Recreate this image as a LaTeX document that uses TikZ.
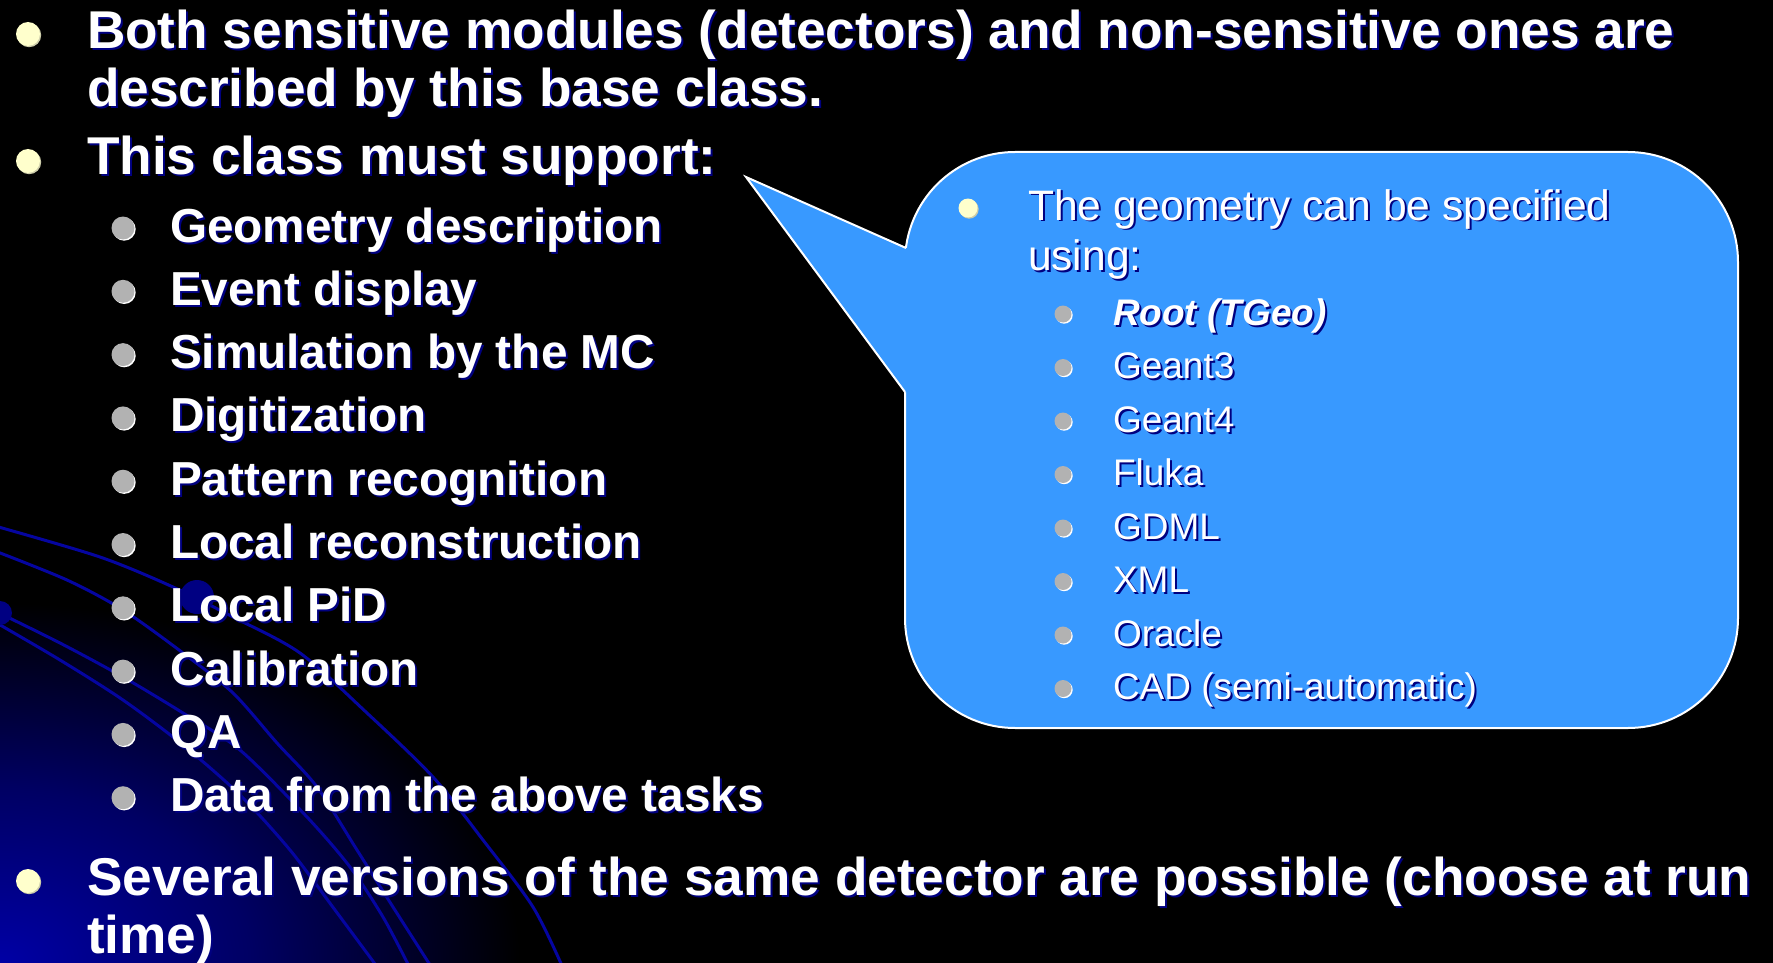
\documentclass[tikz,border=0pt]{standalone}
\usepackage{fontspec}
\setmainfont{Liberation Sans}
\definecolor{calloutblue}{RGB}{56,153,255}
\definecolor{shadownavy}{RGB}{0,0,128}
\definecolor{arcnavy}{RGB}{5,5,160}
\definecolor{glowblue}{RGB}{0,0,165}
\definecolor{glowmid}{RGB}{0,0,100}
\definecolor{blobnavy}{RGB}{0,0,130}
\definecolor{bulletyellow}{RGB}{255,255,204}
\definecolor{bulletrimy}{RGB}{205,205,170}
\definecolor{bulletgray}{RGB}{178,178,178}
\pgfdeclareradialshading{glowshade}{\pgfpoint{0bp}{0bp}}{color(0bp)=(glowblue); color(12bp)=(glowmid); color(25bp)=(black); color(50bp)=(black)}
\newcommand{\sltext}[5]{%
  \node[txt,#4,text=shadownavy] at (#2+2,#3+2) {#5};
  \node[txt,#4] (#1) at (#2,#3) {#5};}
\newcommand{\ybul}[3]{%
  \fill[bulletrimy] (#1+1.2,#2+1.2) circle (#3);
  \fill[bulletyellow] (#1,#2) circle (#3);}
\newcommand{\gbul}[3]{%
  \fill[white] (#1+1.2,#2+1.2) circle (#3);
  \fill[bulletgray] (#1,#2) circle (#3);}
\tikzset{
  txt/.style={anchor=base west, inner sep=0pt, outer sep=0pt, text=white},
  lone/.style={font=\fontsize{53.2}{58}\selectfont\bfseries},
  ltwo/.style={font=\fontsize{47.7}{52}\selectfont\bfseries},
  cone/.style={font=\fontsize{42.6}{50}\selectfont},
  ctwo/.style={font=\fontsize{37}{44}\selectfont},
  ctwobi/.style={font=\fontsize{37}{44}\selectfont\bfseries\itshape},
  arcline/.style={draw=arcnavy, line width=3pt},
}
\begin{document}
\begin{tikzpicture}[x=1pt,y=-1pt]
\useasboundingbox (0,0) rectangle (1773,963);
% background
\fill[black] (0,0) rectangle (1773,963);
\begin{scope}
  \clip (0,0) rectangle (1773,963);
  \shade[shading=glowshade] (0,963) ellipse (520 and 360);
  \draw[arcline] plot[smooth] coordinates {(-5,526) (100,557) (173,587) (233,617) (300,653) (367,713) (433,777) (483,840) (533,907) (563,968)};
  \draw[arcline] plot[smooth] coordinates {(-5,551) (67,580) (123,610) (183,653) (233,693) (277,743) (317,787) (357,850) (393,907) (432,968)};
  \draw[arcline] plot[smooth] coordinates {(-5,611) (60,643) (123,677) (183,713) (240,750) (307,817) (350,867) (383,917) (410,968)};
  \draw[arcline] plot[smooth] coordinates {(-5,622) (60,660) (123,700) (183,745) (240,795) (290,850) (335,910) (378,968)};
  \fill[blobnavy] (197,597) circle (17);
  \fill[blobnavy] (0,613) circle (12);
\end{scope}
% callout
\filldraw[fill=calloutblue, draw=white, line width=2pt, rounded corners=110pt] (905,152) rectangle (1738,728);
\fill[calloutblue] (746,177) -- (906,248) -- (945,248) -- (945,392) -- (905,392) -- cycle;
\draw[white, line width=2pt] (906,248) -- (746,177) -- (905,392);
% left bullets
\ybul{28}{34}{12}
\ybul{28}{161}{12}
\ybul{28}{881}{12}
\sltext{t1}{87}{49}{lone}{Both sensitive modules (detectors) and non-sensitive ones are}
\sltext{t2}{87}{107}{lone}{described by this base class.}
\sltext{t3}{87}{175}{lone}{This class must support:}
\gbul{123}{228}{11.5}
\gbul{123}{291.3}{11.5}
\gbul{123}{354.6}{11.5}
\gbul{123}{417.9}{11.5}
\gbul{123}{481.2}{11.5}
\gbul{123}{544.5}{11.5}
\gbul{123}{607.8}{11.5}
\gbul{123}{671.1}{11.5}
\gbul{123}{734.4}{11.5}
\gbul{123}{797.7}{11.5}
\sltext{s1}{170}{242}{ltwo}{Geometry description}
\sltext{s2}{170}{305.3}{ltwo}{Event display}
\sltext{s3}{170}{368.6}{ltwo}{Simulation by the MC}
\sltext{s4}{170}{431.9}{ltwo}{Digitization}
\sltext{s5}{170}{495.2}{ltwo}{Pattern recognition}
\sltext{s6}{170}{558.5}{ltwo}{Local reconstruction}
\sltext{s7}{170}{621.8}{ltwo}{Local PiD}
\sltext{s8}{170}{685.1}{ltwo}{Calibration}
\sltext{s9}{170}{748.4}{ltwo}{QA}
\sltext{s10}{170}{811.7}{ltwo}{Data from the above tasks}
\sltext{t4}{87}{895}{lone}{Several versions of the same detector are possible (choose at run}
\sltext{t5}{87}{953}{lone}{time)}
% callout text
\ybul{968}{208}{9.5}
\sltext{c1}{1028}{220}{cone}{The geometry can be specified}
\sltext{c2}{1028}{270}{cone}{using:}
\gbul{1063}{314}{8.5}
\gbul{1063}{367.5}{8.5}
\gbul{1063}{421}{8.5}
\gbul{1063}{474.5}{8.5}
\gbul{1063}{528}{8.5}
\gbul{1063}{581.5}{8.5}
\gbul{1063}{635}{8.5}
\gbul{1063}{688.5}{8.5}
\sltext{g1}{1113}{325}{ctwobi}{Root (TGeo)}
\sltext{g2}{1113}{378.5}{ctwo}{Geant3}
\sltext{g3}{1113}{432}{ctwo}{Geant4}
\sltext{g4}{1113}{485.5}{ctwo}{Fluka}
\sltext{g5}{1113}{539}{ctwo}{GDML}
\sltext{g6}{1113}{592.5}{ctwo}{XML}
\sltext{g7}{1113}{646}{ctwo}{Oracle}
\sltext{g8}{1113}{699.5}{ctwo}{CAD (semi-automatic)}
\end{tikzpicture}
\end{document}
